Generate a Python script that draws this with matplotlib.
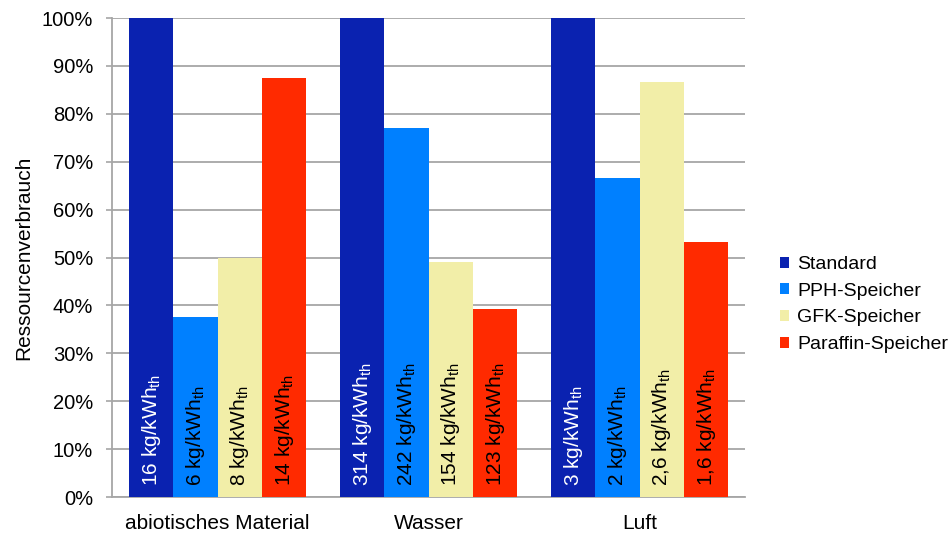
import matplotlib
matplotlib.use("Agg")
import matplotlib.pyplot as plt
import numpy as np

plt.rcParams['font.family'] = ['Liberation Sans', 'DejaVu Sans']
plt.rcParams['mathtext.fontset'] = 'custom'
plt.rcParams['mathtext.rm'] = 'Liberation Sans'
plt.rcParams['mathtext.it'] = 'Liberation Sans'

categories = ["abiotisches Material", "Wasser", "Luft"]
series = ["Standard", "PPH-Speicher", "GFK-Speicher", "Paraffin-Speicher"]
# relative resource use in percent of the standard storage
values = {
    "Standard":          [100.0, 100.0, 100.0],
    "PPH-Speicher":      [37.5, 77.1, 66.7],
    "GFK-Speicher":      [50.0, 49.0, 86.7],
    "Paraffin-Speicher": [87.5, 39.2, 53.3],
}
# absolute amounts written inside the bars
amounts = {
    "Standard":          ["16", "314", "3"],
    "PPH-Speicher":      ["6", "242", "2"],
    "GFK-Speicher":      ["8", "154", "2,6"],
    "Paraffin-Speicher": ["14", "123", "1,6"],
}
colors = {
    "Standard": "#0a22b0",
    "PPH-Speicher": "#0080ff",
    "GFK-Speicher": "#f2eea8",
    "Paraffin-Speicher": "#ff2a00",
}
text_colors = {
    "Standard": "white",
    "PPH-Speicher": "black",
    "GFK-Speicher": "black",
    "Paraffin-Speicher": "black",
}
yticks = [0, 10, 20, 30, 40, 50, 60, 70, 80, 90, 100]

fig = plt.figure(figsize=(9.53, 5.41), dpi=100)
ax = fig.add_axes([0.1175, 0.0813, 0.6645, 0.8854])

x = np.arange(len(categories))
width = 0.21
grid_col = "#a6a6a6"

for i, s in enumerate(series):
    pos = x + (i - 1.5) * width
    ax.bar(pos, values[s], width, color=colors[s], label=s, zorder=3)
    for p, amt in zip(pos, amounts[s]):
        ax.text(p, 2.3, amt + r" kg/kWh$_{\mathrm{th}}$", rotation=90,
                ha="center", va="bottom", color=text_colors[s],
                fontsize=15, zorder=4)

ax.set_xlim(-0.5, 2.5)
ax.set_ylim(0, 100)
ax.set_yticks(yticks)
ax.set_yticklabels([f"{t}%" for t in yticks], fontsize=14.5)
ax.set_xticks(x)
ax.set_xticklabels(categories, fontsize=15)
ax.tick_params(axis="x", length=0, pad=12)
ax.tick_params(axis="y", length=4.5, width=1.2, color=grid_col, pad=9)
ax.yaxis.grid(True, color=grid_col, linewidth=1.3, zorder=0)
ax.set_axisbelow(True)
for side in ("top", "right"):
    ax.spines[side].set_visible(False)
for side in ("left", "bottom"):
    ax.spines[side].set_color(grid_col)
    ax.spines[side].set_linewidth(1.3)
ax.set_ylabel("Ressourcenverbrauch", fontsize=15, labelpad=6)

fig.legend(loc="center left", bbox_to_anchor=(0.810, 0.437), frameon=False,
           fontsize=14, handlelength=0.5, handleheight=0.5,
           handletextpad=0.4, labelspacing=0.5, borderaxespad=0)

fig.savefig("out.png", dpi=100)
